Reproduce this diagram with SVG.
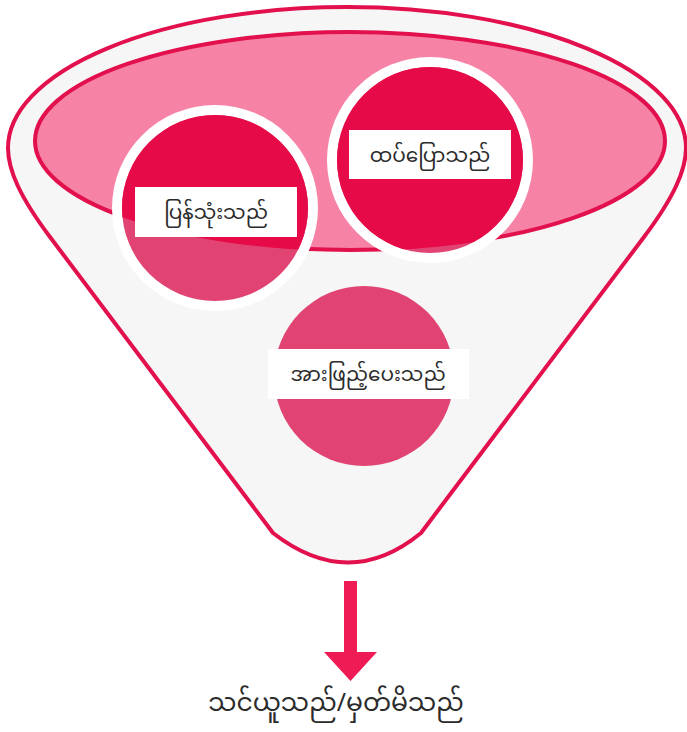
<svg xmlns="http://www.w3.org/2000/svg" width="687" height="732" viewBox="0 0 687 732">
<style>
.lbl{font-family:"Noto Sans Myanmar","Padauk","Myanmar Text","Noto Sans",sans-serif;font-size:20px;fill:#2b2b2b;text-anchor:middle}
.ring{fill:#ffffff}
.low{fill:#e14372}
.top{fill:#e60a48}
.box{fill:#ffffff}
</style>
<defs>
<clipPath id="inEll"><ellipse cx="350" cy="141" rx="316" ry="110"/></clipPath>
</defs>
<g id="funnel">
<path d="M273,533 L50,237 C20,197 8,170 8,148 A339,141 0 0 1 686,148 C686,170 674,197 644,237 L421,533 Q349,592 273,533 Z" fill="#f6f6f6" stroke="#e2104d" stroke-width="4" stroke-linejoin="round"/>
<ellipse cx="350" cy="141" rx="315" ry="109" fill="#f682a6" stroke="#e2104d" stroke-width="4"/>
</g>
<g id="node-reuse">
<circle class="ring" cx="215" cy="208" r="103"/>
<circle class="low" cx="215" cy="208" r="93"/>
<circle class="top" cx="215" cy="208" r="93" clip-path="url(#inEll)"/>
<rect class="box" x="135" y="187" width="162" height="50"/>
<text class="lbl" x="216" y="219">ပြန်သုံးသည်</text>
</g>
<g id="node-repeat">
<circle class="ring" cx="430" cy="160" r="103"/>
<circle class="low" cx="430" cy="160" r="93"/>
<circle class="top" cx="430" cy="160" r="93" clip-path="url(#inEll)"/>
<rect class="box" x="349" y="130" width="162" height="49"/>
<text class="lbl" x="430" y="162">ထပ်ပြောသည်</text>
</g>
<g id="node-reinforce">
<circle class="low" cx="364" cy="376" r="90"/>
<rect class="box" x="268" y="349" width="201" height="50"/>
<text class="lbl" x="368" y="381">အားဖြည့်ပေးသည်</text>
</g>
<g id="connectors">
<polygon points="344,581 357,581 357,652 377,652 350.5,681 324,652 344,652" fill="#ee1b55"/>
</g>
<g id="node-learn">
<text class="lbl" x="336" y="711" style="font-size:25px">သင်ယူသည်/မှတ်မိသည်</text>
</g>
</svg>
